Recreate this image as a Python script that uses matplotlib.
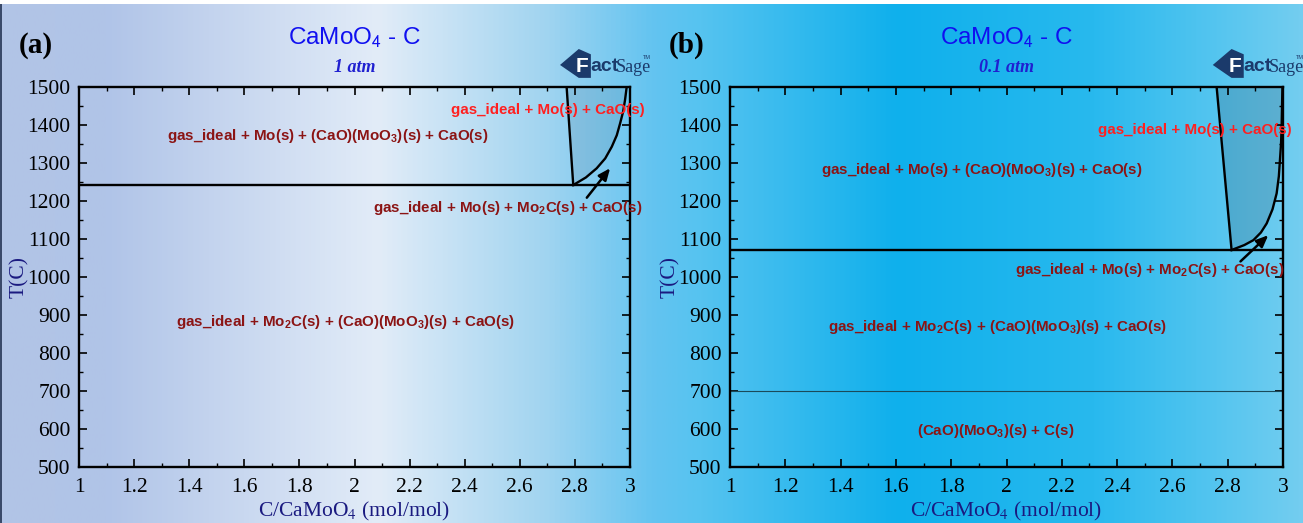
import numpy as np
import matplotlib
matplotlib.use("Agg")
import matplotlib.pyplot as plt
from matplotlib.colors import LinearSegmentedColormap
from matplotlib.ticker import MultipleLocator
from matplotlib.patches import Polygon, Rectangle

plt.rcParams["mathtext.fontset"] = "custom"
plt.rcParams["mathtext.rm"] = "Liberation Sans:bold"
plt.rcParams["mathtext.it"] = "Liberation Sans:bold"
plt.rcParams["mathtext.bf"] = "Liberation Sans:bold"

# ---------------- data ----------------
x_ticks = [1, 1.2, 1.4, 1.6, 1.8, 2, 2.2, 2.4, 2.6, 2.8, 3]
x_tick_labels = ["1", "1.2", "1.4", "1.6", "1.8", "2", "2.2", "2.4", "2.6", "2.8", "3"]
y_ticks = [500, 600, 700, 800, 900, 1000, 1100, 1200, 1300, 1400, 1500]

# panel (a) 1 atm
a_hline_T = 1242
a_left_x = [2.770, 2.794]
a_left_T = [1500, 1242]
a_curve_x = [2.794, 2.840, 2.879, 2.910, 2.934, 2.952, 2.964, 2.975, 2.982, 2.988]
a_curve_T = [1242, 1262, 1286, 1312, 1343, 1373, 1404, 1435, 1466, 1500]
a_arrow_tail = (2.837, 1203)
a_arrow_head = (2.934, 1292)

# panel (b) 0.1 atm
b_hline_T = 1071
b_thin_T = 700
b_left_x = [2.760, 2.814]
b_left_T = [1500, 1071]
b_curve_x = [2.814, 2.860, 2.893, 2.920, 2.941, 2.962, 2.977, 2.985, 2.989, 2.993, 2.995, 2.997, 2.998]
b_curve_T = [1071, 1084, 1097, 1117, 1141, 1178, 1220, 1265, 1308, 1352, 1396, 1466, 1500]
b_arrow_tail = (2.839, 1036)
b_arrow_head = (2.954, 1115)

DR = "#8b1414"
RED = "#ff2020"
a_labels = [
    ("gas_ideal + Mo(s) + (CaO)(MoO$_3$)(s) + CaO(s)", 1.904, 1371, DR),
    ("gas_ideal + Mo(s) + CaO(s)", 2.70, 1439, RED),
    ("gas_ideal + Mo(s) + Mo$_2$C(s) + CaO(s)", 2.557, 1182, DR),
    ("gas_ideal + Mo$_2$C(s) + (CaO)(MoO$_3$)(s) + CaO(s)", 1.966, 882, DR),
]
b_labels = [
    ("gas_ideal + Mo(s) + CaO(s)", 2.682, 1387, RED),
    ("gas_ideal + Mo(s) + (CaO)(MoO$_3$)(s) + CaO(s)", 1.911, 1282, DR),
    ("gas_ideal + Mo(s) + Mo$_2$C(s) + CaO(s)", 2.519, 1018, DR),
    ("gas_ideal + Mo$_2$C(s) + (CaO)(MoO$_3$)(s) + CaO(s)", 1.966, 868, DR),
    ("(CaO)(MoO$_3$)(s) + C(s)", 1.962, 595, DR),
]

# ---------------- figure ----------------
W, H = 1303, 523
fig = plt.figure(figsize=(W / 100, H / 100), dpi=100)

# background gradient
bg = fig.add_axes([0, 0, 1, 1], zorder=-10)
stops = [(0.0, (178, 196, 230)), (0.08, (176, 196, 232)), (0.29, (226, 236, 248)),
         (0.42, (160, 212, 240)), (0.50, (100, 196, 240)), (0.54, (85, 195, 240)),
         (0.69, (15, 176, 236)), (0.84, (40, 185, 238)), (1.0, (115, 205, 240))]
cmap = LinearSegmentedColormap.from_list("bg", [(p, tuple(c / 255 for c in col)) for p, col in stops])
grad = np.linspace(0, 1, 512)[None, :]
bg.imshow(grad, aspect="auto", cmap=cmap, extent=[0, 1, 0, 1])
bg.set_xlim(0, 1)
bg.set_ylim(0, 1)
bg.add_patch(Rectangle((0, 1 - 4 / H), 1, 4 / H, facecolor="white", edgecolor="none"))
bg.add_patch(Rectangle((0, 0), 1.5 / W, 1 - 4 / H, facecolor="#3a4a6a", edgecolor="none"))
bg.set_axis_off()

serif = "Liberation Serif"
sans = "Liberation Sans"
NAVY = "#1a1a80"
BLUE = "#1010f0"
LOGO = "#1b3a6b"


def panel(rect, letter, press, hline_T, left_x, left_T, curve_x, curve_T,
          tail, head, labels, fillc, thin_T=None):
    ax = fig.add_axes(rect)
    ax.patch.set_alpha(0)
    ax.set_xlim(1, 3)
    ax.set_ylim(500, 1500)
    ax.set_xticks(x_ticks)
    ax.set_xticklabels(x_tick_labels)
    ax.set_yticks(y_ticks)
    ax.xaxis.set_minor_locator(MultipleLocator(0.1))
    ax.yaxis.set_minor_locator(MultipleLocator(50))
    ax.tick_params(which="both", direction="in", top=True, right=True)
    ax.tick_params(which="major", length=6, width=1.2, labelsize=15.5, pad=6)
    ax.tick_params(axis="x", which="major", pad=8)
    ax.tick_params(which="minor", length=3, width=1.0)
    for lab in ax.get_xticklabels() + ax.get_yticklabels():
        lab.set_fontfamily(serif)
    for s in ax.spines.values():
        s.set_linewidth(1.7)
    ax.set_xlabel("C/CaMoO$_4$ (mol/mol)", fontfamily=serif, fontsize=15.5,
                  color=NAVY, labelpad=2, math_fontfamily="stix")
    ax.set_ylabel("T(C)", fontfamily=serif, fontsize=15.5, color=NAVY, labelpad=-1.5)

    # boundaries
    ax.axhline(hline_T, color="black", lw=1.7)
    if thin_T is not None:
        ax.axhline(thin_T, color="#1a4a5a", lw=0.8)
    ax.plot(left_x, left_T, color="black", lw=1.7)
    ax.plot(curve_x, curve_T, color="black", lw=1.7)
    poly = list(zip(left_x, left_T)) + list(zip(curve_x[1:], curve_T[1:]))
    ax.add_patch(Polygon(poly, closed=True, facecolor=fillc, edgecolor="none", zorder=1))

    ax.annotate("", xy=head, xytext=tail,
                arrowprops=dict(arrowstyle="-|>,head_length=0.7,head_width=0.3",
                                color="black", lw=1.8))

    for txt, x, y, c in labels:
        ax.text(x, y, txt, color=c, fontfamily=sans, fontweight="bold",
                fontsize=10.9, ha="center", va="center", clip_on=False, zorder=5)

    # titles
    ax.text(0.5, 1.13, "CaMoO$_4$ - C", transform=ax.transAxes, ha="center",
            va="center", fontfamily=sans, fontsize=17.5, color=BLUE,
            math_fontfamily="stixsans")
    ax.text(0.5, 1.05, press, transform=ax.transAxes, ha="center", va="center",
            fontfamily=serif, fontsize=13, fontstyle="italic", fontweight="bold",
            color="#2020d0")
    ax.text(-0.11, 1.11, letter, transform=ax.transAxes, ha="left", va="center",
            fontfamily=serif, fontsize=21, fontweight="bold", color="black")
    # FactSage logo (text)
    lx, ly = 0.895, 1.058
    ax.add_patch(Polygon([(lx - 0.022, ly), (lx + 0.012, ly + 0.042), (lx + 0.034, ly + 0.028),
                          (lx + 0.034, ly - 0.034), (lx + 0.012, ly - 0.034)],
                         closed=True, transform=ax.transAxes, facecolor=LOGO,
                         edgecolor="none", clip_on=False))
    ax.text(lx + 0.006, ly - 0.004, "F", transform=ax.transAxes, ha="left", va="center",
            fontfamily=sans, fontweight="bold", fontsize=15, color="white")
    ax.text(lx + 0.033, ly - 0.004, "act", transform=ax.transAxes, ha="left", va="center",
            fontfamily=sans, fontweight="bold", fontsize=14, color=LOGO)
    ax.text(lx + 0.080, ly - 0.008, "Sage", transform=ax.transAxes, ha="left", va="center",
            fontfamily=serif, fontsize=13, color=LOGO)
    ax.text(lx + 0.128, ly + 0.02, "TM", transform=ax.transAxes, ha="left", va="center",
            fontfamily=sans, fontsize=4, color=LOGO)
    return ax


panel([79 / W, 1 - 467 / H, 551 / W, 380 / H], "(a)", "1 atm", a_hline_T,
      a_left_x, a_left_T, a_curve_x, a_curve_T, a_arrow_tail, a_arrow_head,
      a_labels, (0.25, 0.35, 0.45, 0.13))
panel([730 / W, 1 - 467 / H, 553 / W, 380 / H], "(b)", "0.1 atm", b_hline_T,
      b_left_x, b_left_T, b_curve_x, b_curve_T, b_arrow_tail, b_arrow_head,
      b_labels, (0.15, 0.30, 0.40, 0.22), thin_T=b_thin_T)

fig.savefig("out.png", dpi=100)
